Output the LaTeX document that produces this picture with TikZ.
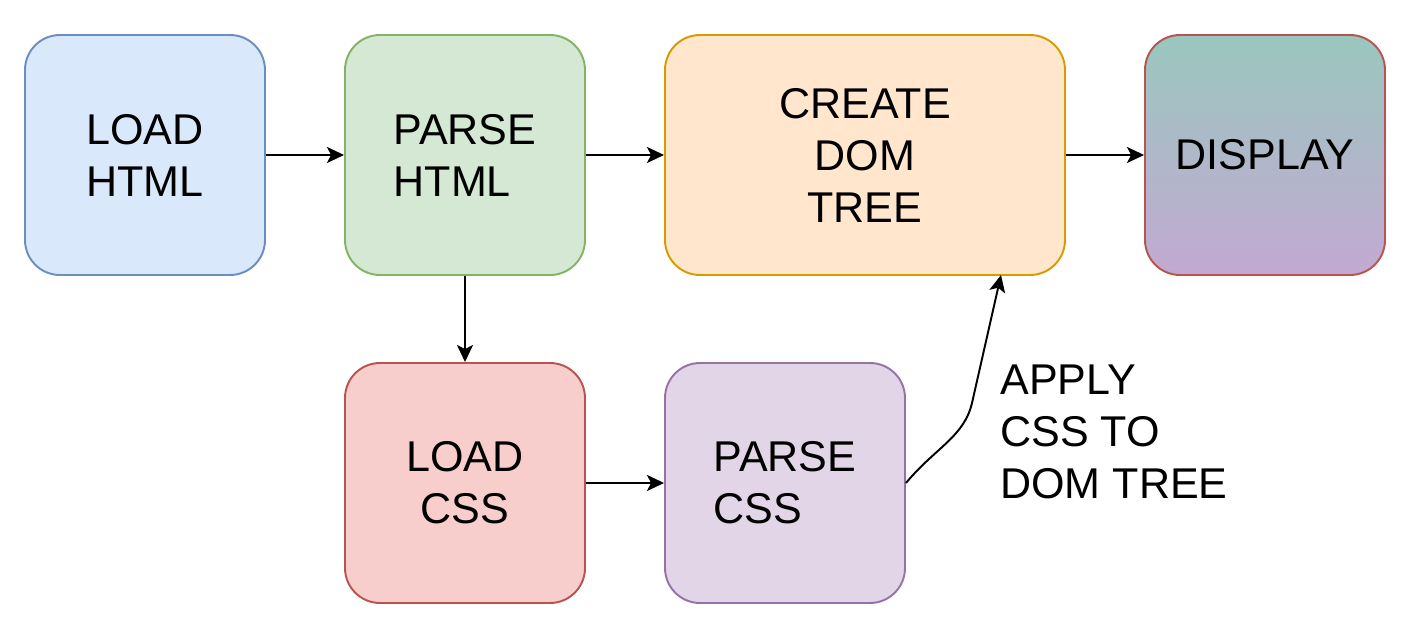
\documentclass[tikz,border=0pt]{standalone}
\usepackage{fontspec}
\setmainfont{Liberation Sans}
\usetikzlibrary{positioning,arrows.meta}

\definecolor{bluefill}{HTML}{DAE8FC}
\definecolor{bluedraw}{HTML}{6C8EBF}
\definecolor{greenfill}{HTML}{D5E8D4}
\definecolor{greendraw}{HTML}{82B366}
\definecolor{orangefill}{HTML}{FFE6CC}
\definecolor{orangedraw}{HTML}{D79B00}
\definecolor{redfill}{HTML}{F8CECC}
\definecolor{reddraw}{HTML}{B85450}
\definecolor{purplefill}{HTML}{E1D5E7}
\definecolor{purpledraw}{HTML}{9673A6}
\definecolor{disptop}{HTML}{9AC7BF}
\definecolor{dispbottom}{HTML}{C3A9D2}

\begin{document}
\begin{tikzpicture}[
  stage/.style={draw, line width=1.1pt, rounded corners=0.7cm, minimum width=4.8cm, minimum height=4.8cm, inner sep=0pt, font=\fontsize{24.5}{29.6}\selectfont},
  flow/.style={line width=1.1pt, -{Stealth[length=0.34cm, width=0.32cm, inset=0.08cm]}}
]
\useasboundingbox (0,0) rectangle (28.32,-12.68);
\node[stage, fill=bluefill, draw=bluedraw, align=center] (lhtml) at (2.9,-3.1) {LOAD\\HTML};
\node[stage, fill=greenfill, draw=greendraw, align=left] (phtml) at (9.3,-3.1) {PARSE\\HTML};
\node[stage, fill=orangefill, draw=orangedraw, align=center, minimum width=8cm] (cdom) at (17.3,-3.1) {CREATE\\DOM\\TREE};
\node[stage, top color=disptop, bottom color=dispbottom, draw=reddraw] (disp) at (25.3,-3.1) {DISPLAY};
\node[stage, fill=redfill, draw=reddraw, align=center] (lcss) at (9.3,-9.66) {LOAD\\CSS};
\node[stage, fill=purplefill, draw=purpledraw, align=left] (pcss) at (15.7,-9.66) {PARSE\\CSS};
\node[anchor=west, align=left, inner sep=0pt, font=\fontsize{24.5}{29.6}\selectfont] (apply) at (20.0,-8.64) {APPLY\\CSS TO\\DOM TREE};
\coordinate (cdomin) at (20.02,-5.5);
\draw[flow] (lhtml) -- (phtml);
\draw[flow] (phtml) -- (cdom);
\draw[flow] (cdom) -- (disp);
\draw[flow] (phtml) -- (lcss);
\draw[flow] (lcss) -- (pcss);
\draw[flow] (pcss.east) .. controls (18.7,-8.96) and (19.28,-8.74) .. (19.44,-8.06) -- (cdomin);
\end{tikzpicture}
\end{document}
